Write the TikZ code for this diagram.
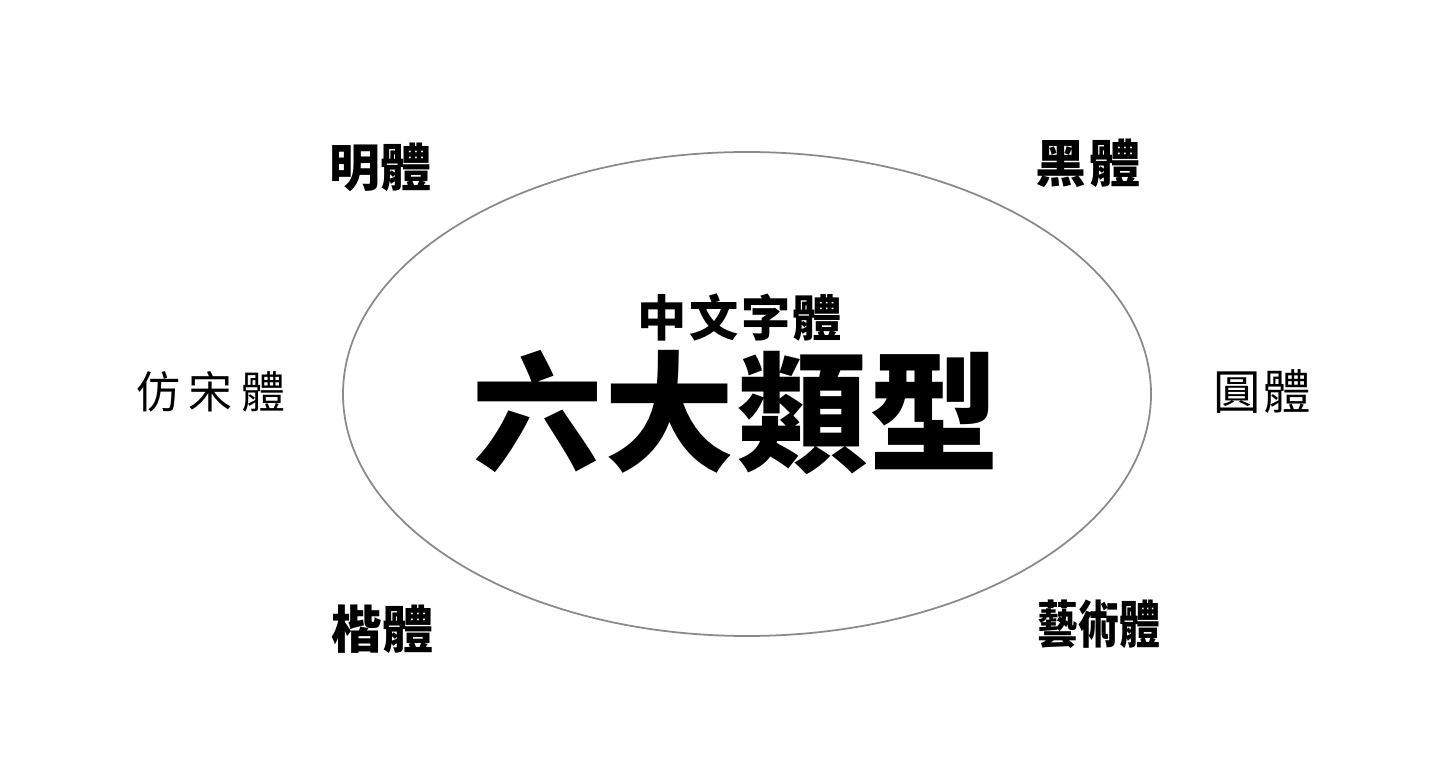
\documentclass[tikz,border=0pt]{standalone}
\usepackage{fontspec}
\newfontfamily\cjk{Noto Sans CJK TC}
\definecolor{rimgray}{HTML}{8A8A8A}

\begin{document}
\begin{tikzpicture}[x=0.02cm,y=-0.02cm,
   every node/.style={inner sep=0pt,font=\cjk},
   kind/.style={font=\cjk\bfseries\fontsize{29}{30}\selectfont},
   thin kind/.style={font=\cjk\fontsize{27}{28}\selectfont}]

\useasboundingbox (0,0) rectangle (1436,759);
\draw[rimgray,line width=1pt] (747,394) ellipse [x radius=404,y radius=242];

% centre
\node (sub) at (740,318) {\bfseries\fontsize{28}{30}\selectfont 中\hspace{0.05em}文\hspace{0.05em}字\hspace{0.05em}體};
\node (main) at (736,413) {\bfseries\fontsize{74}{76}\selectfont 六\hspace{0.02em}大\hspace{0.02em}類\hspace{0.02em}型};

% six kinds round the ellipse
\node[kind] (ming) at (380,167) {明體};
\node[kind] (hei) at (1088,163) {黑\hspace{0.05em}體};
\node[thin kind,font=\cjk\fontsize{25}{26}\selectfont] (fangsong) at (211,392) {仿\hspace{0.2em}宋\hspace{0.2em}體};
\node[thin kind] (yuan) at (1262,392) {圓\hspace{0.05em}體};
\node[kind] (kai) at (382,629) {楷體};
\node[kind,xscale=0.8] (yishu) at (1099,624) {藝術體};
\end{tikzpicture}
\end{document}
